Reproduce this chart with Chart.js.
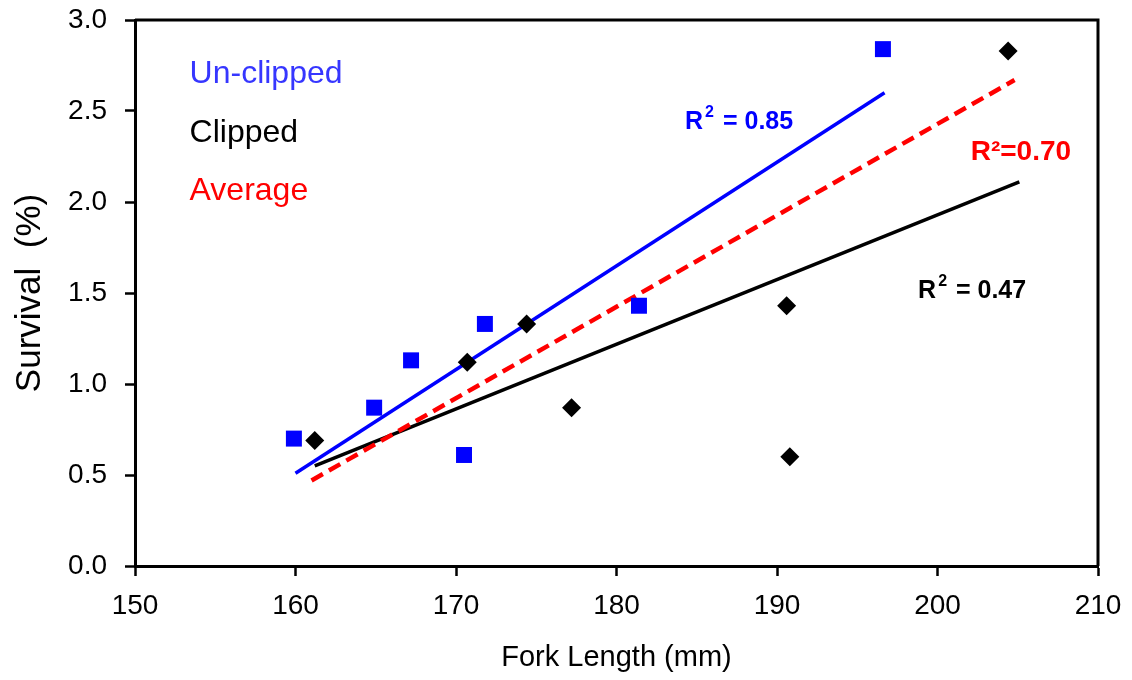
<!DOCTYPE html>
<html>
<head>
<meta charset="utf-8">
<script src="https://cdn.jsdelivr.net/npm/chart.js@4/dist/chart.umd.min.js"></script>
<style>
    body { margin: 0; background: #fff; }
    #wrap { width: 1132px; height: 680px; }
</style>
</head>
<body>
<div id="wrap"><canvas id="survivalChart" width="1132" height="680"></canvas></div>
<script>
// fork length (mm) and survival (%)
const unclippedLength = [159.9, 164.9, 167.2, 170.5, 171.8, 181.4, 196.6];
const unclippedSurvival = [0.70, 0.87, 1.13, 0.61, 1.33, 1.43, 2.84];
const clippedLength = [161.2, 170.7, 174.4, 177.2, 190.6, 190.8, 204.4];
const clippedSurvival = [0.69, 1.12, 1.33, 0.87, 1.43, 0.60, 2.83];

// trend line end points
const unclippedTrendX = [160.0, 196.7];
const unclippedTrendY = [0.51, 2.60];
const clippedTrendX = [161.2, 205.1];
const clippedTrendY = [0.55, 2.11];
const averageTrendX = [161.0, 204.8];
const averageTrendY = [0.47, 2.67];

const xTicks = [150, 160, 170, 180, 190, 200, 210];
const yTicks = ["0.0", "0.5", "1.0", "1.5", "2.0", "2.5", "3.0"];

const FONT = "'Liberation Sans', Arial, sans-serif";

function toPoints(xs, ys) {
    return xs.map((x, i) => ({ x: x, y: ys[i] }));
}

//======================[START]-[text + frame plugin]======================
const labels = [
    { text: "Un-clipped", x: 153.4, y: 2.655, color: "#3636ff", size: 32 },
    { text: "Clipped", x: 153.4, y: 2.331, color: "#000000", size: 32 },
    { text: "Average", x: 153.4, y: 2.011, color: "#ff0000", size: 32 },
];
const rSquared = [
    { value: "0.85", x: 184.27, y: 2.401, color: "#0000ff", sup: true },
    { value: "0.47", x: 198.79, y: 1.4725, color: "#000000", sup: true },
    { value: "0.70", x: 202.07, y: 2.231, color: "#ff0000", sup: false },
];

const extrasPlugin = {
    id: "extras",
    afterDatasetsDraw(chart) {
        const { ctx, chartArea, scales } = chart;
        ctx.save();
        // top and right frame
        ctx.strokeStyle = "#000";
        ctx.lineWidth = 3;
        ctx.beginPath();
        ctx.moveTo(chartArea.left, chartArea.top);
        ctx.lineTo(chartArea.right, chartArea.top);
        ctx.lineTo(chartArea.right, chartArea.bottom);
        ctx.stroke();

        ctx.textBaseline = "alphabetic";
        ctx.textAlign = "left";
        labels.forEach((l) => {
            ctx.font = `${l.size}px ${FONT}`;
            ctx.fillStyle = l.color;
            ctx.fillText(l.text, scales.x.getPixelForValue(l.x), scales.y.getPixelForValue(l.y));
        });

        rSquared.forEach((r) => {
            let px = scales.x.getPixelForValue(r.x);
            const py = scales.y.getPixelForValue(r.y);
            ctx.fillStyle = r.color;
            if (r.sup) {
                ctx.font = `bold 25px ${FONT}`;
                ctx.fillText("R", px, py);
                px += ctx.measureText("R").width + 2;
                ctx.font = `bold 16px ${FONT}`;
                ctx.fillText("2", px, py - 12);
                px += ctx.measureText("2").width + 2;
                ctx.font = `bold 25px ${FONT}`;
                ctx.fillText(" = " + r.value, px, py);
            } else {
                ctx.font = `bold 28px ${FONT}`;
                ctx.fillText("R\u00b2=" + r.value, px, py);
            }
        });
        ctx.restore();
    },
};
//======================[END]-[text + frame plugin]======================

const ctx = document.getElementById("survivalChart");

new Chart(ctx, {
    type: "scatter",
    data: {
        datasets: [
            {
                label: "Un-clipped",
                data: toPoints(unclippedLength, unclippedSurvival),
                pointStyle: "rect",
                pointRadius: 11.3,
                backgroundColor: "#0000ff",
                borderColor: "#0000ff",
                borderWidth: 0,
            },
            {
                label: "Clipped",
                data: toPoints(clippedLength, clippedSurvival),
                pointStyle: "rectRot",
                pointRadius: 9.5,
                backgroundColor: "#000000",
                borderColor: "#000000",
                borderWidth: 0,
            },
            {
                label: "Average trend",
                data: toPoints(averageTrendX, averageTrendY),
                showLine: true,
                pointRadius: 0,
                borderColor: "#ff0000",
                borderWidth: 4.5,
                borderDash: [13, 7],
            },
            {
                label: "Un-clipped trend",
                data: toPoints(unclippedTrendX, unclippedTrendY),
                showLine: true,
                pointRadius: 0,
                borderColor: "#0000ff",
                borderWidth: 3.5,
            },
            {
                label: "Clipped trend",
                data: toPoints(clippedTrendX, clippedTrendY),
                showLine: true,
                pointRadius: 0,
                borderColor: "#000000",
                borderWidth: 3.5,
            },
        ],
    },
    options: {
        responsive: false,
        animation: false,
        devicePixelRatio: 1,
        layout: { padding: { left: 0, top: 20, right: 34, bottom: 0 } },
        plugins: {
            legend: { display: false },
            tooltip: { enabled: false },
        },
        scales: {
            x: {
                type: "linear",
                min: xTicks[0],
                max: xTicks[xTicks.length - 1],
                afterBuildTicks(scale) {
                    scale.ticks = xTicks.map((v) => ({ value: v }));
                },
                afterFit(scale) {
                    scale.height = 114;
                    scale.paddingLeft = 0;
                    scale.paddingRight = 0;
                },
                ticks: {
                    color: "#000",
                    font: { family: FONT, size: 28 },
                    padding: 13,
                    maxRotation: 0,
                },
                grid: {
                    drawOnChartArea: false,
                    drawTicks: true,
                    tickLength: 10,
                    tickWidth: 2.5,
                    tickColor: "#000",
                },
                border: { display: true, color: "#000", width: 3 },
                title: {
                    display: true,
                    text: "Fork Length (mm)",
                    color: "#000",
                    font: { family: FONT, size: 29 },
                    padding: { top: 0, bottom: 5 },
                },
            },
            y: {
                type: "linear",
                min: 0,
                max: 3,
                afterBuildTicks(scale) {
                    scale.ticks = yTicks.map((t) => ({ value: parseFloat(t) }));
                },
                afterFit(scale) {
                    scale.width = 135;
                    scale.paddingTop = 0;
                    scale.paddingBottom = 0;
                },
                ticks: {
                    color: "#000",
                    font: { family: FONT, size: 28 },
                    padding: 18,
                    callback: (value) => yTicks.find((t) => parseFloat(t) === value),
                },
                grid: {
                    drawOnChartArea: false,
                    drawTicks: true,
                    tickLength: 10,
                    tickWidth: 2.5,
                    tickColor: "#000",
                },
                border: { display: true, color: "#000", width: 3 },
                title: {
                    display: true,
                    text: "Survival  (%)",
                    color: "#000",
                    font: { family: FONT, size: 35 },
                    padding: { top: 9, bottom: 0 },
                },
            },
        },
    },
    plugins: [extrasPlugin],
});
</script>
</body>
</html>
